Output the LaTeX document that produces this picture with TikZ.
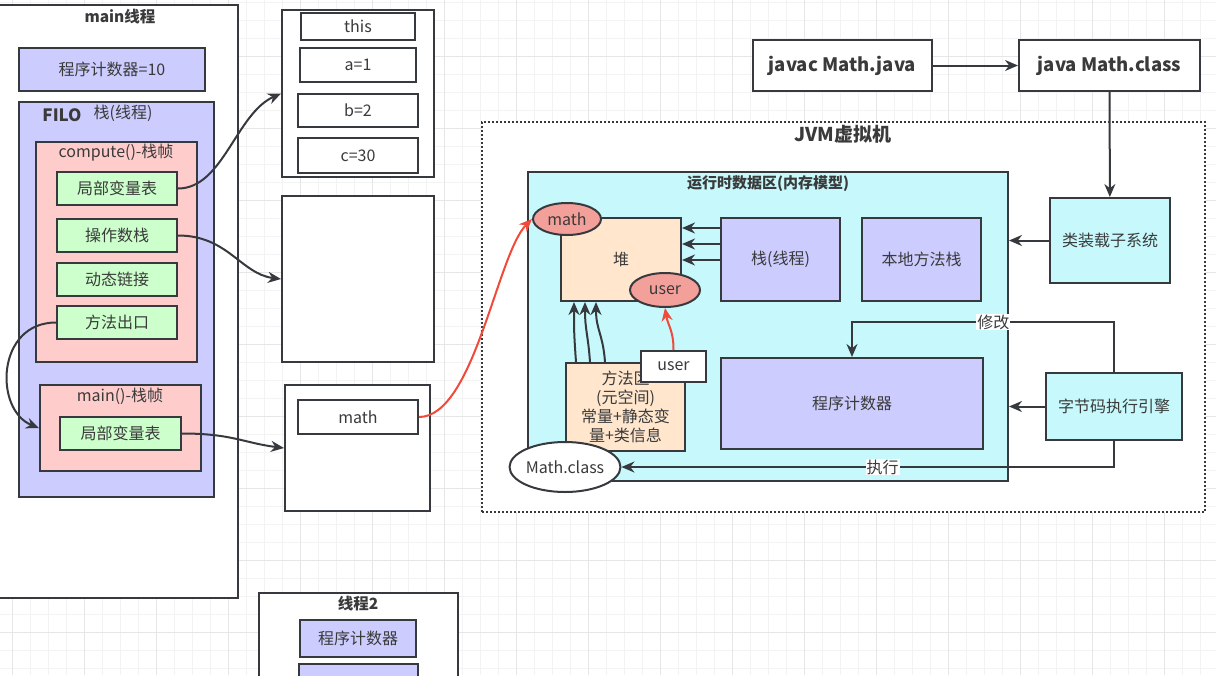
\documentclass[tikz,border=0pt]{standalone}
\usepackage{fontspec}
\setmainfont{Noto Sans CJK SC}
\usepackage{xcolor}
\definecolor{border}{HTML}{36393D}
\definecolor{textgray}{HTML}{3A3A3A}
\definecolor{lavender}{HTML}{CCCCFF}
\definecolor{rose}{HTML}{FFCCCC}
\definecolor{mint}{HTML}{CCFFCC}
\definecolor{aqua}{HTML}{C6F8FC}
\definecolor{peach}{HTML}{FFE6CC}
\definecolor{salmon}{HTML}{F4A09A}
\definecolor{redline}{HTML}{F04A3A}
\definecolor{gridminor}{HTML}{F3F3F3}
\definecolor{gridmajor}{HTML}{E6E6E6}
\usepackage{tikz}
\usetikzlibrary{
    arrows.meta,
    positioning,
    shapes.geometric,
}

\begin{document}
\begin{tikzpicture}[%
    x=1pt,
    y=-1pt,
    every node/.style={
        font=\fontsize{16}{19}\selectfont,
        text=textgray,
        inner sep=0,
    },
    box/.style={
        draw=border,
        line width=2pt,
        fill=#1,
    },
    box/.default=white,
    obj/.style={
        ellipse,
        draw=border,
        line width=2pt,
        fill=salmon,
    },
    title/.style={
        font=\bfseries\fontsize{15.5}{18}\selectfont,
    },
    bigtitle/.style={
        font=\bfseries\fontsize{18.5}{21}\selectfont,
    },
    lbl/.style={
        fill=white,
        inner sep=1pt,
    },
    wire/.style={
        draw=border,
        line width=2pt,
        -{Stealth[length=13pt,width=11pt]},
    },
    redwire/.style={
        wire,
        draw=redline,
    },
]

\useasboundingbox (0,0) rectangle (1216,675);
\clip (0,0) rectangle (1216,675);

% grid
\foreach \gx in {12,30,...,1216}
    \draw[gridminor] (\gx,0) -- (\gx,675);
\foreach \gy in {2,20,...,675}
    \draw[gridminor] (0,\gy) -- (1216,\gy);
\foreach \gx in {12,84,...,1216}
    \draw[gridmajor] (\gx,0) -- (\gx,675);
\foreach \gy in {56,128,...,675}
    \draw[gridmajor] (0,\gy) -- (1216,\gy);

% main thread
\node [box, minimum width=243, minimum height=593] (mainthr) at (116.5,301.5) {};
\node [title] (mainthrlbl) at (120,17) {main线程};
\node [box=lavender, minimum width=186, minimum height=43] (pcten) at (112,69.5) {程序计数器=10};
\node [box=lavender, minimum width=195, minimum height=395] (filo) at (116.5,299.5) {};
\node [font=\bfseries\fontsize{17}{20}\selectfont] (filolbl) at (62,115) {FILO};
\node (filostk) at (123,113) {栈(线程)};

\node [box=rose, minimum width=161, minimum height=220] (compute) at (116.5,252) {};
\node (computelbl) at (116,153) {compute()-栈帧};
\node [box=mint, minimum width=120, minimum height=33] (locals) at (117,188.5) {局部变量表};
\node [box=mint, minimum width=120, minimum height=33] (operands) at (117,235.5) {操作数栈};
\node [box=mint, minimum width=120, minimum height=33] (dynlink) at (117,279.5) {动态链接};
\node [box=mint, minimum width=120, minimum height=33] (retaddr) at (117,322.5) {方法出口};

\node [box=rose, minimum width=161, minimum height=86] (mainframe) at (120.5,428) {};
\node (mainframelbl) at (120,396) {main()-栈帧};
\node [box=mint, minimum width=121, minimum height=33] (mainlocals) at (120.5,433.5) {局部变量表};

% frames on the right of the thread
\node [box, minimum width=152, minimum height=167] (objlocals) at (358,93.5) {};
\node [box, minimum width=114, minimum height=27] (this) at (358,26.5) {this};
\node [box, minimum width=116, minimum height=34] (vara) at (358,65) {a=1};
\node [box, minimum width=120, minimum height=33] (varb) at (358,110.5) {b=2};
\node [box, minimum width=120, minimum height=35] (varc) at (358,155.5) {c=30};
\node [box, minimum width=152, minimum height=166] (objops) at (358,279) {};
\node [box, minimum width=145, minimum height=126] (objmain) at (357.5,448) {};
\node [box, minimum width=120, minimum height=34] (mathref) at (358,417) {math};

% thread 2
\node [box, minimum width=199, minimum height=100] (thrtwo) at (358.5,643) {};
\node [title] (thrtwolbl) at (358,604) {线程2};
\node [box=lavender, minimum width=116, minimum height=37] (pctwo) at (358,638.5) {程序计数器};
\node [box=lavender, minimum width=119, minimum height=24] (stktwo) at (358.5,676) {};

% jvm
\node [box, bigtitle, minimum width=179, minimum height=51] (javac) at (842.5,65.5) {javac Math.java};
\node [box, bigtitle, minimum width=181, minimum height=51] (java) at (1109.5,65.5) {java Math.class};

\node [draw=border, line width=2pt, dotted, fill=white, minimum width=723, minimum height=390] (jvm) at (843.5,317) {};
\node [font=\bfseries\fontsize{19}{22}\selectfont] (jvmlbl) at (843,134) {JVM虚拟机};
\node [box=aqua, minimum width=480, minimum height=309] (rda) at (768,326.5) {};
\node [font=\bfseries\fontsize{15}{17}\selectfont] (rdalbl) at (768,184) {运行时数据区(内存模型)};

\node [box=peach, minimum width=120, minimum height=83] (heap) at (621,259.5) {堆};
\node [box=lavender, minimum width=119, minimum height=83] (jstack) at (780.5,259.5) {栈(线程)};
\node [box=lavender, minimum width=119, minimum height=83] (native) at (921.5,259.5) {本地方法栈};
\node [box=lavender, minimum width=262, minimum height=91] (pc) at (852,403.5) {程序计数器};
\node [box=peach, minimum width=119, minimum height=88, align=center] (metaspace) at (625.5,407) {方法区\\(元空间)\\常量+静态变\\量+类信息};
\node [box, minimum width=65, minimum height=31] (userref) at (673.5,366.5) {user};
\node [obj, minimum width=68, minimum height=32] (mathobj) at (567,219) {math};
\node [obj, minimum width=70, minimum height=34] (userobj) at (665,290) {user};
\node [box, ellipse, minimum width=108, minimum height=50] (mathclass) at (565,467) {Math.class};

\node [box=aqua, minimum width=120, minimum height=85] (loader) at (1110,240.5) {类装载子系统};
\node [box=aqua, minimum width=136, minimum height=67] (engine) at (1114,406.5) {字节码执行引擎};

% connectors
\draw [wire] (locals.east) .. controls +(45,0) and +(-45,20) .. (objlocals.west);
\draw [wire] (operands.east) .. controls +(50,0) and +(-40,-5) .. (objops.west);
\draw [wire] (mainlocals.east) .. controls +(50,0) and +(-40,-5) .. (objmain.west);
\draw [wire] (retaddr.west) .. controls +(-60,0) and +(-45,-18) .. (mainframe.west);
\draw [redwire] (mathref.east) .. controls +(55,0) and +(-35,35) .. (mathobj.west);
\draw [redwire] (userref.north) .. controls +(0,-20) and +(3,18) .. (userobj.south);
\foreach \a/\b in {11/14,25/25,40/36}
    \draw [wire] ([xshift=\a pt]metaspace.north west) .. controls +(-2,-28) and +(0,28) .. ([xshift=\b pt]heap.south west);
\foreach \d in {11,27,43}
    \draw [wire] ([yshift=-\d pt]jstack.north west) -- ([yshift=-\d pt]jstack.north west -| heap.east);

\draw [wire] (javac) -- (java);
\draw [wire] (java) -- (loader);
\draw [wire] (loader.west) -- (loader.west -| rda.east);
\draw [wire] (engine.west) -- (engine.west -| rda.east);
\draw [wire] (engine.north) -- ++(0,-50) -| node [lbl, pos=0.23] (modlbl) {修改} (pc.north);
\draw [wire] (engine.south) |- node [lbl, pos=0.735] (execlbl) {执行} (mathclass.east);

\end{tikzpicture}
\end{document}
